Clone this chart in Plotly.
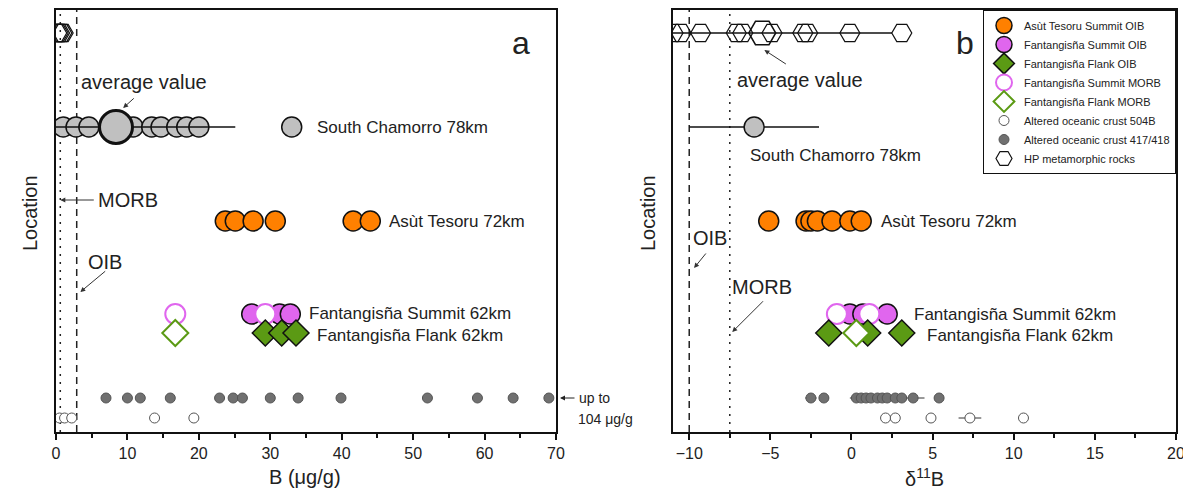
import plotly.graph_objects as go

# ---------------- data ----------------
# Panel a : B (ug/g)
hp_B = [0.1, 0.3, 0.5, 0.8, 1.0]
sc_B = [1.0, 2.8, 4.6, 10.8, 13.4, 14.7, 16.9, 18.3, 20.0, 33.0]
sc_B_avg = [8.4]
sc_B_err_plus = [16.7]
sc_B_err_minus = [8.4]
at_B = [23.7, 25.1, 27.6, 30.7, 41.6, 44.0]
fs_oib_B = [27.4, 31.3, 32.8]
fs_morb_B = [16.7, 29.3]
ff_oib_B = [29.3, 31.6, 33.6]
ff_morb_B = [16.7]
aoc417_B = [7.0, 10.0, 11.8, 16.0, 22.9, 24.8, 26.1, 30.0, 33.9, 39.9, 52.0, 59.0, 64.0, 69.0]
aoc504_B = [0.5, 1.2, 2.2, 13.8, 19.3]
MORB_B = 0.6
OIB_B = 2.9

# Panel b : d11B
hp_d = [-11.0, -10.5, -9.3, -7.1, -6.7, -4.9, -3.0, -2.7, -0.1, 3.1]
hp_d_avg = [-5.5]
hp_d_err_plus = [8.0]
hp_d_err_minus = [5.6]
sc_d = [-6.0]
sc_d_err = [4.0]
at_d = [-5.1, -2.8, -2.5, -2.1, -1.2, -0.1, 0.6]
fs_oib_d = [-0.1, 0.7, 2.2]
fs_morb_d = [-0.9, 1.1]
ff_oib_d = [-1.4, 1.0, 3.1]
ff_morb_d = [0.3]
aoc417_d = [-2.5, -1.7, 0.3, 0.6, 0.9, 1.2, 1.6, 1.9, 2.2, 2.7, 3.1, 3.8, 5.4]
aoc417_d_err = [0.35, 0.3, 0.4, 0.3, 0.3, 0.3, 0.3, 0.3, 0.3, 0.3, 0.3, 0.7, 0.3]
aoc504_d = [2.1, 2.7, 4.9, 7.3, 10.6]
aoc504_d_err = [0, 0, 0, 0.7, 0]
MORB_d = -7.5
OIB_d = -10.0

# location rows (vertical layout levels)
ROW_Y = {"hp": 399, "sc": 305, "at": 211, "fs": 118, "ff": 99, "aoc417": 34, "aoc504": 14}

ORANGE = "#FF8000"
VIOLET = "#E066EE"
GREEN = "#5B9A14"
GRAY = "#C0C0C0"
DARK = "#707070"
FONT = "Arial, Liberation Sans, sans-serif"

fig = go.Figure()


def add(xs, row, xa, ya, name, show, rank, marker, err=None):
    fig.add_trace(go.Scatter(
        x=xs, y=[ROW_Y[row]] * len(xs), mode="markers", name=name,
        xaxis=xa, yaxis=ya, showlegend=show, legendrank=rank, hoverinfo="skip",
        marker=marker, error_x=err if err else dict(visible=False),
    ))


def panel(data, xa, ya, show):
    (hp, sc, at, fso, fsm, ffo, ffm, a417, a504, a417e, a504e) = data
    add(a504, "aoc504", xa, ya, "Altered oceanic crust 504B", show, 7,
        dict(symbol="circle", size=10, color="white", line=dict(color="#555", width=1)),
        dict(type="data", array=a504e, color="#333", thickness=1, width=0) if a504e else None)
    add(a417, "aoc417", xa, ya, "Altered oceanic crust 417/418", show, 8,
        dict(symbol="circle", size=10, color=DARK, line=dict(color="#555", width=1)),
        dict(type="data", array=a417e, color="#333", thickness=1, width=0) if a417e else None)
    add(hp, "hp", xa, ya, "HP metamorphic rocks", show, 9,
        dict(symbol="hexagon2-open", size=20, color="#111", line=dict(color="#111", width=1.2)))
    add(sc, "sc", xa, ya, "South Chamorro", show, 6,
        dict(symbol="circle", size=20, color=GRAY, line=dict(color="#111", width=1.5)))
    add(at, "at", xa, ya, "Asùt Tesoru Summit OIB", show, 1,
        dict(symbol="circle", size=20, color=ORANGE, line=dict(color="#111", width=1.5)))
    add(fso, "fs", xa, ya, "Fantangisña Summit OIB", show, 2,
        dict(symbol="circle", size=20, color=VIOLET, line=dict(color="#111", width=1.5)))
    add(fsm, "fs", xa, ya, "Fantangisña Summit MORB", show, 4,
        dict(symbol="circle", size=20, color="white", line=dict(color=VIOLET, width=2)))
    add(ffo, "ff", xa, ya, "Fantangisña Flank OIB", show, 3,
        dict(symbol="diamond", size=20, color=GREEN, line=dict(color="#111", width=1.5)))
    add(ffm, "ff", xa, ya, "Fantangisña Flank MORB", show, 5,
        dict(symbol="diamond", size=20, color="white", line=dict(color=GREEN, width=2)))


panel((hp_B, sc_B, at_B, fs_oib_B, fs_morb_B, ff_oib_B, ff_morb_B, aoc417_B, aoc504_B, None, None),
      "x", "y", False)
panel((hp_d, [], at_d, fs_oib_d, fs_morb_d, ff_oib_d, ff_morb_d, aoc417_d, aoc504_d, aoc417_d_err, aoc504_d_err),
      "x2", "y2", True)

# averages / single points with ranges
add(sc_B_avg, "sc", "x", "y", "avg", False, 20,
    dict(symbol="circle", size=33, color=GRAY, line=dict(color="#111", width=3)),
    dict(type="data", symmetric=False, array=sc_B_err_plus, arrayminus=sc_B_err_minus,
         color="#111", thickness=1.5, width=0))
add(hp_d_avg, "hp", "x2", "y2", "avg", False, 20,
    dict(symbol="hexagon2-open", size=27, color="#111", line=dict(color="#111", width=1.5)),
    dict(type="data", symmetric=False, array=hp_d_err_plus, arrayminus=hp_d_err_minus,
         color="#111", thickness=1.5, width=0))
add(sc_d, "sc", "x2", "y2", "South Chamorro", False, 6,
    dict(symbol="circle", size=20, color=GRAY, line=dict(color="#111", width=1.5)),
    dict(type="data", array=sc_d_err, color="#111", thickness=1.5, width=0))

W, H = 1183, 493
def px_x(p): return p / W
def px_y(p): return (H - p) / H

ydom = [px_y(432), px_y(10)]
axis_common = dict(showline=True, mirror=True, linecolor="#111", linewidth=1.5, automargin=False,
                   showgrid=False, zeroline=False, ticks="outside", ticklen=6, tickwidth=1.5,
                   tickcolor="#111", tickfont=dict(family=FONT, size=16, color="#222"),
                   ticklabeloverflow="allow")
yaxis_common = dict(domain=ydom, range=[0, 422], showticklabels=False, ticks="", showline=True,
                    mirror=True, linecolor="#111", linewidth=1.5, showgrid=False, zeroline=False,
                    automargin=False)
fig.update_layout(
    width=W, height=H, autosize=False,
    margin=dict(l=0, r=0, t=0, b=0, autoexpand=False),
    paper_bgcolor="white", plot_bgcolor="white",
    font=dict(family=FONT, color="#222"),
    hovermode=False,
    xaxis=dict(domain=[px_x(56), px_x(556)], range=[0, 70], dtick=10, anchor="y",
               minor=dict(dtick=5, ticks="outside", ticklen=4, tickwidth=1.5, tickcolor="#111"),
               **axis_common),
    xaxis2=dict(domain=[px_x(673), px_x(1176)], range=[-11, 20], tick0=-10, dtick=5, anchor="y2",
                minor=dict(dtick=2.5, tick0=-10, ticks="outside", ticklen=4, tickwidth=1.5, tickcolor="#111"),
                **axis_common),
    yaxis=dict(anchor="x", **yaxis_common),
    yaxis2=dict(anchor="x2", **yaxis_common),
    legend=dict(x=px_x(1176), y=px_y(10), xanchor="right", yanchor="top",
                bgcolor="white", bordercolor="#111", borderwidth=1,
                font=dict(family=FONT, size=11, color="#222"), tracegroupgap=0),
)

# reference lines
for xv, dash, xr, yr in [(MORB_B, "2px,6px", "x", "y"), (OIB_B, "7px,5px", "x", "y"),
                         (MORB_d, "2px,6px", "x2", "y2"), (OIB_d, "7px,5px", "x2", "y2")]:
    fig.add_shape(type="line", x0=xv, x1=xv, y0=0, y1=1, xref=xr, yref=yr + " domain",
                  line=dict(color="#222", width=1.5, dash=dash), layer="below")

ann = []
def text(x, y, s, xr, yr, size=17, xanchor="left"):
    ann.append(dict(x=x, y=y, text=s, xref=xr, yref=yr, showarrow=False, xanchor=xanchor,
                    yanchor="middle", font=dict(family=FONT, size=size, color="#222")))

def arrow(x0, y0, x1, y1, xr, yr):
    ann.append(dict(x=x1, y=y1, ax=x0, ay=y0, xref=xr, yref=yr, axref=xr, ayref=yr, text="",
                    showarrow=True, arrowhead=2, arrowsize=1, arrowwidth=1, arrowcolor="#333",
                    standoff=0, startstandoff=0))

# panel a texts
text(36.3, 305, "South Chamorro 78km", "x", "y")
text(46.3, 211, "Asùt Tesoru 72km", "x", "y")
text(35.1, 119, "Fantangisña Summit 62km", "x", "y")
text(36.3, 97, "Fantangisña Flank 62km", "x", "y")
text(12.3, 350, "average value", "x", "y", size=20, xanchor="center")
arrow(11.1, 335, 9.4, 324, "x", "y")
text(5.6, 232, "MORB", "x", "y", size=20)
arrow(5.5, 232, 0.6, 232, "x", "y")
text(4.2, 170, "OIB", "x", "y", size=20)
arrow(7.1, 162, 3.4, 140, "x", "y")
text(65.1, 389, "a", "x", "y", size=32, xanchor="center")

# panel b texts
text(-6.4, 277, "South Chamorro 78km", "x2", "y2")
text(1.7, 211, "Asùt Tesoru 72km", "x2", "y2")
text(3.7, 118, "Fantangisña Summit 62km", "x2", "y2")
text(4.5, 97, "Fantangisña Flank 62km", "x2", "y2")
text(-7.2, 352, "average value", "x2", "y2", size=20)
arrow(-3.95, 367, -5.37, 382, "x2", "y2")
text(-9.9, 194, "OIB", "x2", "y2", size=20)
arrow(-8.9, 180, -9.7, 164, "x2", "y2")
text(-7.5, 145, "MORB", "x2", "y2", size=20)
arrow(-5.37, 132, -7.35, 100, "x2", "y2")
text(7.0, 389, "b", "x2", "y2", size=32, xanchor="center")

# outside texts
text(px_x(577), px_y(398), "up to", "paper", "paper", size=14)
text(px_x(576), px_y(419), "104 μg/g", "paper", "paper", size=14)
ann.append(dict(x=px_x(560), y=px_y(398), xref="paper", yref="paper", ax=16, ay=0, text="",
                showarrow=True, arrowhead=2, arrowsize=1, arrowwidth=1, arrowcolor="#222", standoff=0))
text(px_x(305), px_y(477), "B (μg/g)", "paper", "paper", size=20, xanchor="center")
text(px_x(924), px_y(477), "δ<sup>11</sup>B", "paper", "paper", size=20, xanchor="center")
for xp in (30, 648):
    ann.append(dict(x=px_x(xp), y=px_y(213), xref="paper", yref="paper", text="Location",
                    showarrow=False, textangle=-90, xanchor="center", yanchor="middle",
                    font=dict(family=FONT, size=20, color="#222")))

fig.update_layout(annotations=ann)
fig.write_html("out.html", config={"displayModeBar": False},
               post_script="document.body.style.margin='0px';document.body.style.overflow='hidden';")
